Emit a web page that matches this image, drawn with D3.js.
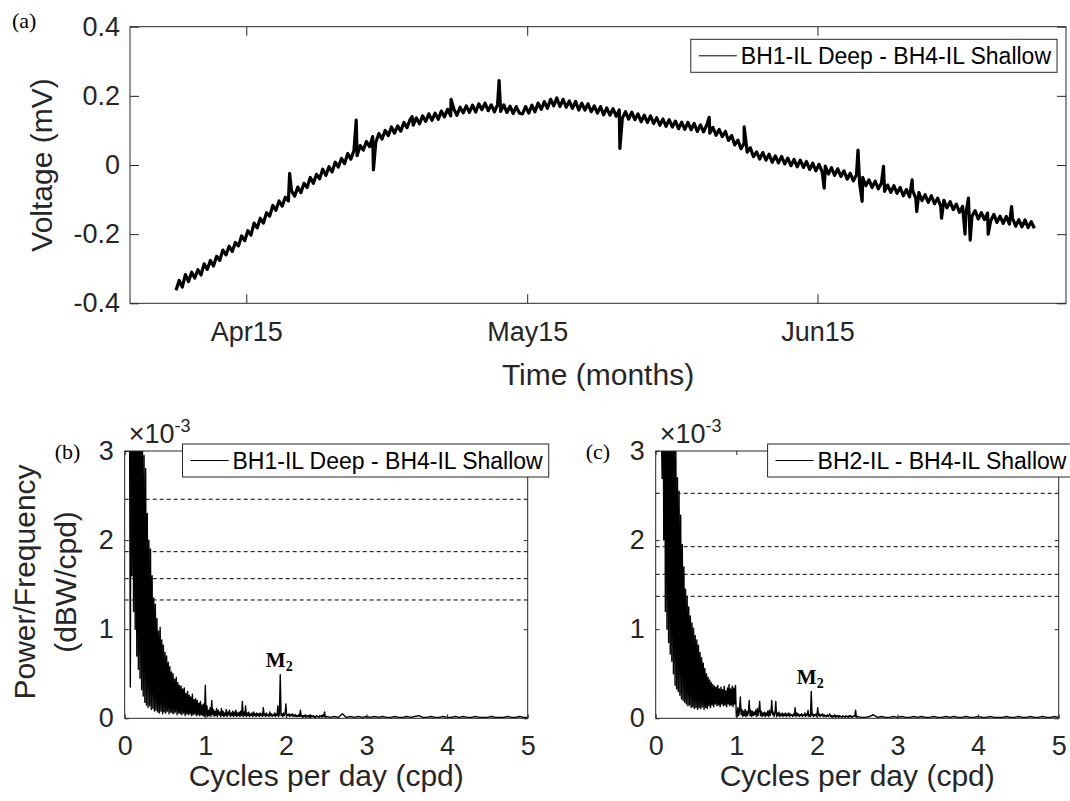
<!DOCTYPE html>
<html>
<head>
<meta charset="utf-8">
<style>
  body { margin: 0; background: #fff; }
</style>
</head>
<body>
<svg width="1070" height="801"></svg>
<script src="https://cdn.jsdelivr.net/npm/d3@7"></script>
<script>

// ---------- panel (a): BH1-IL Deep - BH4-IL Shallow, mV, one sample every 8 h
var voltStart = "2018-04-07T12:00:00Z",
    voltStepHours = 8;

var voltage = [
  -0.362,-0.334,-0.353,-0.317,-0.337,-0.310,-0.327,-0.303,-0.318,-0.286,-0.302,
  -0.276,-0.292,-0.264,-0.276,-0.246,-0.260,-0.235,-0.250,-0.224,-0.234,-0.205,
  -0.219,-0.190,-0.203,-0.168,-0.182,-0.154,-0.168,-0.138,-0.148,-0.117,-0.131,
  -0.104,-0.119,-0.093,-0.104,-0.075,-0.090,-0.064,-0.080,-0.053,-0.065,-0.036,
  -0.053,-0.027,-0.040,-0.012,-0.030,-0.005,-0.020,0.008,-0.006,0.019,0.004,
  0.033,0.017,0.042,0.027,0.056,0.043,0.068,0.053,0.082,0.066,0.091,
  0.075,0.100,0.085,0.110,0.092,0.113,0.098,0.123,0.108,0.132,0.115,
  0.136,0.119,0.142,0.126,0.148,0.129,0.150,0.132,0.156,0.139,0.161,
  0.142,0.162,0.144,0.167,0.151,0.171,0.152,0.173,0.153,0.177,0.160,
  0.179,0.157,0.174,0.154,0.174,0.155,0.174,0.152,0.170,0.149,0.169,
  0.150,0.148,0.169,0.150,
  0.173,0.154,0.179,0.161,0.183,0.164,0.190,0.171,0.194,
  0.169,0.190,0.167,0.185,0.164,0.184,0.159,0.179,0.159,0.177,0.154,0.171,0.150,0.169,
  0.145,0.165,0.144,0.163,0.141,0.159,0.136,0.154,0.133,0.153,0.131,
  0.148,0.125,0.144,0.123,0.142,0.120,0.137,0.115,0.133,0.112,0.131,
  0.110,0.127,0.105,0.124,0.103,0.123,0.102,0.120,0.097,0.116,0.096,
  0.115,0.092,0.109,0.086,0.103,0.082,0.097,0.071,0.085,0.058,0.072,
  0.047,0.063,0.037,0.050,0.024,0.038,0.017,0.036,0.014,0.031,0.008,
  0.026,0.006,0.025,0.003,0.020,-0.002,0.016,-0.005,0.014,-0.007,0.010,
  -0.013,0.005,-0.017,0.002,-0.020,-0.003,-0.026,-0.008,-0.030,-0.011,-0.033,
  -0.017,-0.041,-0.024,-0.046,-0.028,-0.052,-0.036,-0.060,-0.043,-0.065,-0.047,
  -0.069,-0.052,-0.076,-0.058,-0.079,-0.060,-0.082,-0.065,-0.089,-0.071,-0.092,
  -0.074,-0.096,-0.080,-0.103,-0.086,-0.108,-0.089,-0.112,-0.096,-0.119,-0.102,
  -0.124,-0.106,-0.129,-0.113,-0.137,-0.120,-0.143,-0.125,-0.148,-0.132,-0.156,
  -0.138,-0.158,-0.139,-0.161,-0.143,-0.166,-0.148,-0.169,-0.149,-0.171,-0.154,
  -0.177,-0.158,-0.179,-0.159,-0.181,-0.164,-0.183
];

// isolated spikes: days after 15 Apr, value (mV)
var spikeDays   = [4.63, 11.74, 13.58, 17.71, 21.87, 27.0, 39.9, 49.44, 53.17, 61.72, 65.33, 65.77,
                   68.05, 71.11, 71.6, 74.25, 76.76, 77.12, 77.31, 79.23, 81.73];
var spikeValues = [-0.024, 0.13, -0.014, 0.14, 0.19, 0.244, 0.048, 0.138, 0.11, -0.067, 0.043, -0.105,
                   -0.004, -0.043, -0.135, -0.154, -0.2, -0.096, -0.217, -0.2, -0.12];

var timeDomain = ["2018-04-02T14:00:00Z", "2018-07-11T13:00:00Z"];
var monthTicks = ["2018-04-15", "2018-05-15", "2018-06-15"];
var voltTicks = [-0.4, -0.2, 0, 0.2, 0.4];

// ---------- panels (b), (c): PSD in units of 1e-3 dBW/cpd
var lowStart = 0,    lowStep = 0.01;
var midStart = 1.01, midStep = 0.01;
var tailStart = 2.55, tailStep = 0.05;

var psdB_low = [
  9.0,7.5,6.0,5.2,4.6,4.0,3.6,0.35,4.8,1.6,
  5.2,1.2,4.5,1.0,4.2,0.7,3.9,0.55,3.6,0.45,
  3.4,0.32,3.2,0.25,2.95,0.18,2.8,0.15,2.3,0.12,
  2.0,0.14,1.9,0.10,1.6,0.11,1.35,0.08,1.28,0.09,
  1.12,0.07,0.98,0.06,1.02,0.08,0.88,0.05,0.82,0.07,
  0.74,0.06,0.70,0.08,0.63,0.05,0.58,0.07,0.52,0.06,
  0.50,0.05,0.44,0.07,0.46,0.04,0.40,0.06,0.37,0.05,
  0.36,0.04,0.33,0.06,0.34,0.03,0.28,0.05,0.30,0.04,
  0.26,0.05,0.24,0.03,0.27,0.04,0.21,0.05,0.22,0.03,
  0.20,0.04,0.17,0.03,0.19,0.04,0.15,0.03,0.16,0.02,
  0.37
];
var psdB_mid = [
  0.03,0.14,0.02,0.09,0.03,0.12,0.02,0.20,0.04,0.10,
  0.02,0.08,0.03,0.11,0.02,0.09,0.04,0.07,0.02,0.11,
  0.03,0.08,0.02,0.06,0.03,0.10,0.02,0.07,0.04,0.09,
  0.02,0.06,0.03,0.08,0.02,0.07,0.03,0.09,0.02,0.06,
  0.03,0.07,0.02,0.08,0.03,0.19,0.02,0.07,0.03,0.14,
  0.02,0.06,0.03,0.07,0.02,0.05,0.03,0.06,0.02,0.07,
  0.03,0.05,0.02,0.06,0.03,0.05,0.02,0.06,0.03,0.05,
  0.02,0.12,0.03,0.05,0.02,0.06,0.03,0.04,0.02,0.07,
  0.03,0.05,0.02,0.04,0.03,0.06,0.02,0.05,0.03,0.14,
  0.02,0.05,0.49,0.03,0.05,0.02,0.06,0.03,0.05,0.16,
  0.02,0.04,0.03,0.05,0.02,0.04,0.03,0.05,0.02,0.04,
  0.02,0.04,0.02,0.03,0.02,0.04,0.02,0.09,0.02,0.03,
  0.01,0.03,0.02,0.04,0.01,0.03,0.02,0.03,0.01,0.04,
  0.01,0.03,0.02,0.03,0.01,0.02,0.01,0.03,0.02,0.02,
  0.01,0.03,0.02,0.03,0.01,0.04,0.02,0.07,0.01,0.02
];
var psdB_tail = [
  0.01,0.02,0.01,0.05,0.01,0.02,0.01,0.02,0.01,0.02,
  0.01,0.02,0.01,0.02,0.01,0.01,0.02,0.01,0.01,0.02,
  0.01,0.02,0.03,0.01,0.01,0.02,0.01,0.01,0.02,0.01,
  0.01,0.02,0.01,0.02,0.01,0.01,0.02,0.01,0.01,0.01,
  0.02,0.01,0.01,0.01,0.02,0.01,0.01,0.02,0.01,0.01
];

var psdC_low = [
  9.0,7.8,6.4,5.5,4.8,4.2,3.7,3.3,2.69,4.6,
  2.0,5.0,1.2,4.6,1.0,4.3,0.85,4.0,0.72,3.7,
  0.64,3.5,0.5,3.3,0.37,3.1,0.33,2.7,0.30,2.55,
  0.26,2.28,0.22,1.95,0.20,1.7,0.18,1.45,0.16,1.37,
  0.14,1.25,0.15,1.15,0.12,1.07,0.13,1.01,0.11,0.93,
  0.12,0.88,0.10,0.82,0.12,0.74,0.11,0.68,0.13,0.62,
  0.10,0.56,0.12,0.50,0.11,0.46,0.14,0.43,0.12,0.40,
  0.15,0.38,0.13,0.36,0.16,0.35,0.14,0.37,0.15,0.33,
  0.13,0.35,0.16,0.32,0.14,0.36,0.15,0.31,0.13,0.34,
  0.16,0.38,0.14,0.33,0.15,0.36,0.13,0.34,0.16,0.37,
  0.02
];
var psdC_mid = [
  0.02,0.12,0.03,0.09,0.24,0.04,0.10,0.02,0.08,0.03,
  0.10,0.02,0.08,0.03,0.07,0.20,0.03,0.09,0.02,0.08,
  0.03,0.07,0.04,0.09,0.02,0.11,0.03,0.08,0.19,0.03,
  0.08,0.02,0.06,0.03,0.07,0.02,0.06,0.03,0.08,0.02,
  0.09,0.03,0.07,0.20,0.04,0.07,0.02,0.06,0.19,0.02,
  0.06,0.03,0.07,0.02,0.05,0.03,0.06,0.02,0.05,0.03,
  0.06,0.02,0.05,0.03,0.06,0.02,0.05,0.03,0.04,0.02,
  0.05,0.03,0.12,0.02,0.06,0.03,0.05,0.02,0.04,0.03,
  0.05,0.02,0.04,0.03,0.06,0.02,0.05,0.03,0.09,0.02,
  0.04,0.02,0.30,0.03,0.05,0.02,0.04,0.03,0.05,0.02,
  0.12,0.03,0.05,0.02,0.04,0.03,0.05,0.02,0.04,0.02,
  0.03,0.02,0.04,0.02,0.03,0.05,0.02,0.03,0.01,0.03,
  0.02,0.04,0.01,0.03,0.02,0.03,0.01,0.03,0.02,0.02,
  0.01,0.03,0.02,0.02,0.01,0.03,0.02,0.02,0.01,0.03,
  0.02,0.03,0.01,0.02,0.02,0.03,0.02,0.09,0.01,0.02
];
var psdC_tail = [
  0.01,0.01,0.02,0.04,0.01,0.02,0.01,0.01,0.02,0.01,
  0.02,0.01,0.01,0.02,0.01,0.02,0.01,0.01,0.02,0.01,
  0.01,0.02,0.01,0.02,0.01,0.01,0.02,0.01,0.01,0.02,
  0.01,0.01,0.02,0.01,0.01,0.01,0.02,0.01,0.01,0.02,
  0.01,0.01,0.02,0.01,0.01,0.02,0.01,0.01,0.02,0.01
];

// confidence levels (dashed) and M2 tidal peak
var levelsB = [2.458, 1.870, 1.567, 1.328];
var levelsC = [2.525, 1.926, 1.616, 1.369];
var m2Freq = 1.93;

var cpdTicks = [0, 1, 2, 3, 4, 5];
var psdTicks = [0, 1, 2, 3];

// ---------- drawing
var svg = d3.select("svg");
var ink = "#262626";
var sans = '"Liberation Sans", Arial, Helvetica, sans-serif';
var serif = '"Liberation Serif", "Times New Roman", serif';
var tickFont = 27, titleFont = 30, legendFont = 23;

function axes(g, x, y, o) {
  var x0 = x.range()[0], x1 = x.range()[1],
      y0 = y.range()[0], y1 = y.range()[1];

  g.append("g").attr("transform", "translate(0," + y0 + ")")
      .call(d3.axisBottom(x).tickValues(o.xTicks).tickFormat(o.xFormat)
        .tickSizeInner(-o.tick).tickSizeOuter(0).tickPadding(o.xPad));
  g.append("g").attr("transform", "translate(0," + y1 + ")")
      .call(d3.axisTop(x).tickValues(o.xTicks).tickFormat("")
        .tickSizeInner(-o.tick).tickSizeOuter(0));
  g.append("g").attr("transform", "translate(" + x0 + ",0)")
      .call(d3.axisLeft(y).tickValues(o.yTicks).tickFormat(function(d) { return String(d); })
        .tickSizeInner(-o.tick).tickSizeOuter(0).tickPadding(o.yPad));
  g.append("g").attr("transform", "translate(" + x1 + ",0)")
      .call(d3.axisRight(y).tickValues(o.yTicks).tickFormat("")
        .tickSizeInner(-o.tick).tickSizeOuter(0));

  g.selectAll(".domain").remove();
  g.selectAll(".tick line").attr("stroke", ink);
  g.selectAll(".tick text")
      .attr("fill", ink)
      .style("font", tickFont + "px " + sans);

  g.append("rect")
      .attr("x", x0).attr("y", y1)
      .attr("width", x1 - x0).attr("height", y0 - y1)
      .attr("fill", "none").attr("stroke", ink).attr("stroke-width", 1);
}

function clip(id, x, y) {
  svg.append("clipPath").attr("id", id).append("rect")
      .attr("x", x.range()[0]).attr("y", y.range()[1])
      .attr("width", x.range()[1] - x.range()[0])
      .attr("height", y.range()[0] - y.range()[1]);
}

function legend(lx, ly, label) {
  var g = svg.append("g").attr("transform", "translate(" + lx + "," + ly + ")");
  var r = g.append("rect").attr("height", 33)
      .attr("fill", "#fff").attr("stroke", ink).attr("stroke-width", 1);
  g.append("line").attr("x1", 8).attr("x2", 46).attr("y1", 16.5).attr("y2", 16.5)
      .attr("stroke", "#000").attr("stroke-width", 1);
  var t = g.append("text").attr("x", 50).attr("y", 16.5).attr("dy", "0.35em")
      .attr("fill", "#000").style("font", legendFont + "px " + sans).text(label);
  r.attr("width", 50 + t.node().getComputedTextLength() + 6);
}

function panelLabel(px, py, s) {
  svg.append("text").attr("x", px).attr("y", py)
      .style("font", "22px " + serif).attr("fill", "#000").text(s);
}

// ----- (a)
var parseT = d3.isoParse;
var xA = d3.scaleUtc().domain(timeDomain.map(parseT)).range([130, 1066]);
var yA = d3.scaleLinear().domain([-0.4, 0.4]).range([303.3, 26.7]);

var t0 = parseT(voltStart).getTime(),
    apr15 = parseT(monthTicks[0]).getTime(),
    hour = 3600e3, day = 24 * hour;

var series = voltage.map(function(v, i) { return { t: t0 + i * voltStepHours * hour, v: v }; })
  .concat(spikeDays.map(function(d, i) { return { t: apr15 + d * day, v: spikeValues[i] }; }))
  .sort(function(a, b) { return a.t - b.t; });

var gA = svg.append("g");
clip("clipA", xA, yA);
gA.append("path")
    .datum(series)
    .attr("clip-path", "url(#clipA)")
    .attr("fill", "none").attr("stroke", "#000").attr("stroke-width", 3.2)
    .attr("stroke-linejoin", "round")
    .attr("d", d3.line().x(function(d) { return xA(d.t); }).y(function(d) { return yA(d.v); }));

axes(gA, xA, yA, {
  xTicks: monthTicks.map(parseT), xFormat: d3.utcFormat("%b%d"),
  yTicks: voltTicks, tick: 9, xPad: 19, yPad: 10
});

svg.append("text")
    .attr("x", (xA.range()[0] + xA.range()[1]) / 2).attr("y", 385)
    .attr("text-anchor", "middle").attr("fill", ink)
    .style("font", titleFont + "px " + sans).text("Time (months)");
svg.append("text")
    .attr("transform", "translate(41,165) rotate(-90)").attr("dy", "0.35em")
    .attr("text-anchor", "middle").attr("fill", ink)
    .style("font", titleFont + "px " + sans).text("Voltage (mV)");
legend(690.8, 39.3, "BH1-IL Deep - BH4-IL Shallow");
panelLabel(12, 28, "(a)");

// ----- (b), (c)
function spectrum(id, left, low, mid, tail, levels, legendX, legendLabel, tag) {
  var x = d3.scaleLinear().domain([0, 5]).range([left, left + 403]);
  var y = d3.scaleLinear().domain([0, 3]).range([718.3, 451]);
  var pts = low.map(function(v, i) { return { f: lowStart + i * lowStep, p: v }; })
    .concat(mid.map(function(v, i) { return { f: midStart + i * midStep, p: v }; }))
    .concat(tail.map(function(v, i) { return { f: tailStart + i * tailStep, p: v }; }));

  var g = svg.append("g");
  clip(id, x, y);

  g.selectAll("line.level").data(levels).enter().append("line")
      .attr("class", "level")
      .attr("x1", x.range()[0]).attr("x2", x.range()[1])
      .attr("y1", function(d) { return y(d); }).attr("y2", function(d) { return y(d); })
      .attr("stroke", "#000").attr("stroke-width", 1).attr("stroke-dasharray", "4,3");

  g.append("path")
      .datum(pts)
      .attr("clip-path", "url(#" + id + ")")
      .attr("fill", "none").attr("stroke", "#000").attr("stroke-width", 1.4)
      .attr("stroke-linejoin", "round")
      .attr("d", d3.line().x(function(d) { return x(d.f); }).y(function(d) { return y(d.p); }));

  axes(g, x, y, { xTicks: cpdTicks, xFormat: d3.format("d"), yTicks: psdTicks, tick: 4, xPad: 18, yPad: 11 });

  // M2 label above the tidal peak
  var m2 = pts.find(function(d) { return Math.abs(d.f - m2Freq) < 1e-6; });
  var lab = g.append("text")
      .attr("x", x(m2.f) - 1).attr("y", y(m2.p) - 8)
      .attr("text-anchor", "middle").attr("fill", "#000")
      .style("font", "bold 21px " + serif);
  lab.append("tspan").text("M");
  lab.append("tspan").attr("dy", 4).style("font-size", "14px").text("2");

  // exponent
  var ex = svg.append("text").attr("x", left + 4).attr("y", 443)
      .attr("fill", ink).style("font", tickFont + "px " + sans);
  ex.append("tspan").text("\u00d710");
  ex.append("tspan").attr("dy", -11).style("font-size", "18px").text("-3");

  svg.append("text")
      .attr("x", (x.range()[0] + x.range()[1]) / 2).attr("y", 786)
      .attr("text-anchor", "middle").attr("fill", ink)
      .style("font", titleFont + "px " + sans).text("Cycles per day (cpd)");

  legend(legendX, 444, legendLabel);
  panelLabel(left - 70, 459, tag);
}

spectrum("clipB", 124.7, psdB_low, psdB_mid, psdB_tail, levelsB, 182.5, "BH1-IL Deep - BH4-IL Shallow", "(b)");
spectrum("clipC", 655.7, psdC_low, psdC_mid, psdC_tail, levelsC, 767.6, "BH2-IL - BH4-IL Shallow", "(c)");

// shared y title of the spectra
var yt = svg.append("text")
    .attr("transform", "translate(24,582) rotate(-90)")
    .attr("text-anchor", "middle").attr("fill", ink)
    .style("font", titleFont + "px " + sans);
yt.append("tspan").attr("x", 0).attr("dy", "0.35em").text("Power/Frequency");
yt.append("tspan").attr("x", 0).attr("dy", 41).text("(dBW/cpd)");

</script>
</body>
</html>
